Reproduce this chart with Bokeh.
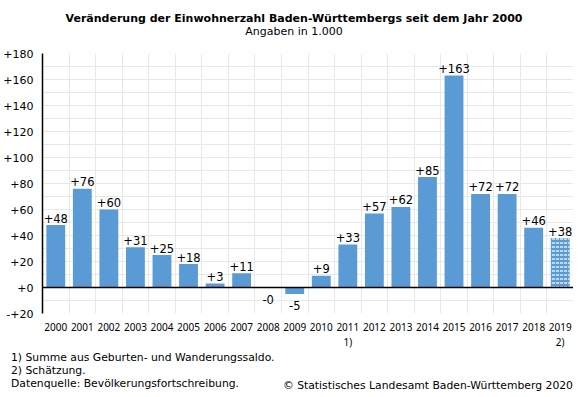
from bokeh.plotting import figure
from bokeh.layouts import column
from bokeh.models import ColumnDataSource, FixedTicker, Span, Range1d, Div
from bokeh.core.properties import value
from bokeh.embed import file_html
from bokeh.resources import INLINE

years = ["2000", "2001", "2002", "2003", "2004", "2005", "2006", "2007", "2008", "2009",
         "2010", "2011", "2012", "2013", "2014", "2015", "2016", "2017", "2018", "2019"]
year_labels = ["2000", "2001", "2002", "2003", "2004", "2005", "2006", "2007", "2008", "2009",
               "2010", "2011\n1)", "2012", "2013", "2014", "2015", "2016", "2017", "2018", "2019\n2)"]
values = [48, 76, 60, 31, 25, 18, 3, 11, -0.3, -5, 9, 33, 57, 62, 85, 163, 72, 72, 46, 38]
value_labels = ["+48", "+76", "+60", "+31", "+25", "+18", "+3", "+11", "-0", "-5", "+9", "+33",
                "+57", "+62", "+85", "+163", "+72", "+72", "+46", "+38"]
estimated = [False] * 19 + [True]
y_ticks = [-20, 0, 20, 40, 60, 80, 100, 120, 140, 160, 180]
y_tick_labels = ["-+20", "+0", "+20", "+40", "+60", "+80", "+100", "+120", "+140", "+160", "+180"]

title_text = "Veränderung der Einwohnerzahl Baden-Württembergs seit dem Jahr 2000"
subtitle_text = "Angaben in 1.000"
footnotes = ["1) Summe aus Geburten- und Wanderungssaldo.", "2) Schätzung.",
             "Datenquelle: Bevölkerungsfortschreibung."]
copyright_text = "© Statistisches Landesamt Baden-Württemberg 2020"

FONT = "DejaVu Sans"
TICK_FONT = "Noto Sans"
BLUE = "#5b9bd5"
W = 573
BL = 41
H_HEAD, H_MAIN, H_FOOT = 40, 311, 42

# ---------- header (figure whose data x equals canvas pixels) ----------
head = figure(width=W, height=H_HEAD, output_backend="svg", toolbar_location=None,
              x_axis_type=None, y_axis_type=None, title=None,
              x_range=Range1d(BL, W), y_range=Range1d(0, H_HEAD),
              min_border_left=BL, min_border_right=0, min_border_top=0, min_border_bottom=0)
head.outline_line_color = None
head.grid.visible = False
head.text(x=[293], y=[H_HEAD - 17.5], text=[title_text], text_font=value(FONT),
          text_font_size="11px", text_font_style="bold", text_align="center",
          text_baseline="middle", text_color="black")
head.text(x=[293], y=[H_HEAD - 31], text=[subtitle_text], text_font=value(FONT),
          text_font_size="11px", text_align="center", text_baseline="middle",
          text_color="black")

# ---------- main chart ----------
xs = [i + 0.5 for i in range(len(years))]

p = figure(width=W, height=H_MAIN, output_backend="svg", toolbar_location=None, title=None,
           x_range=Range1d(0, len(years)), y_range=Range1d(-20, 180),
           min_border_left=BL, min_border_right=0, min_border_top=13, min_border_bottom=38)
p.outline_line_color = None
p.background_fill_color = "white"
p.border_fill_color = "white"

p.xgrid.ticker = FixedTicker(ticks=list(range(len(years) + 1)))
p.xgrid.grid_line_color = "#e8e8e8"
p.ygrid.grid_line_color = "#e8e8e8"
p.ygrid.minor_grid_line_color = "#e8e8e8"

p.yaxis.ticker = FixedTicker(ticks=y_ticks, minor_ticks=list(range(-20, 181, 10)))
p.yaxis.major_label_overrides = {t: l for t, l in zip(y_ticks, y_tick_labels)}
p.yaxis.axis_line_color = "black"
p.yaxis.axis_line_width = 1.5
p.yaxis.major_tick_line_color = None
p.yaxis.minor_tick_line_color = None
p.yaxis.major_tick_out = 0
p.yaxis.major_tick_in = 0
p.yaxis.minor_tick_out = 0
p.yaxis.minor_tick_in = 0
p.yaxis.major_label_text_font = FONT
p.yaxis.major_label_text_font_size = "11px"
p.yaxis.major_label_text_color = "black"
p.yaxis.major_label_standoff = 9

p.xaxis.ticker = FixedTicker(ticks=xs)
p.xaxis.major_label_overrides = {x: l for x, l in zip(xs, year_labels)}
p.xaxis.axis_line_color = None
p.xaxis.major_tick_line_color = None
p.xaxis.minor_tick_line_color = None
p.xaxis.major_tick_out = 0
p.xaxis.minor_tick_out = 0
p.xaxis.major_label_text_font = TICK_FONT
p.xaxis.major_label_text_font_size = "10px"
p.xaxis.major_label_text_line_height = 1.1
p.xaxis.major_label_text_color = "black"
p.xaxis.major_label_standoff = 6

normal = ColumnDataSource(dict(
    x=[x for x, e in zip(xs, estimated) if not e],
    top=[v for v, e in zip(values, estimated) if not e]))
est = ColumnDataSource(dict(
    x=[x for x, e in zip(xs, estimated) if e],
    top=[v for v, e in zip(values, estimated) if e]))
p.vbar(x="x", top="top", bottom=0, width=0.71, source=normal,
       fill_color=BLUE, line_color=None)
p.vbar(x="x", top="top", bottom=0, width=0.71, source=est,
       fill_color=BLUE, line_color=None,
       hatch_pattern="horizontal_dash", hatch_color="white", hatch_scale=4, hatch_weight=1.2)

p.add_layout(Span(location=0, dimension="width", line_color="black", line_width=1.5))

pos = ColumnDataSource(dict(
    x=[x for x, v in zip(xs, values) if v > 0],
    y=[v for v in values if v > 0],
    t=[l for l, v in zip(value_labels, values) if v > 0]))
neg = ColumnDataSource(dict(
    x=[x for x, v in zip(xs, values) if v <= 0],
    y=[v for v in values if v <= 0],
    t=[l for l, v in zip(value_labels, values) if v <= 0]))
p.text(x="x", y="y", text="t", source=pos, text_font=value(FONT), text_font_size="11.5px",
       text_align="center", text_baseline="alphabetic", y_offset=-7, text_color="black")
p.text(x="x", y="y", text="t", source=neg, text_font=value(FONT), text_font_size="11.5px",
       text_align="center", text_baseline="top", y_offset=7, text_color="black")

# ---------- footer (HTML text) ----------
line_tops = [1, 14, 27]
note_html = "".join(
    f'<div style="position:absolute;left:11px;top:{t}px;white-space:nowrap;">{n}</div>'
    for t, n in zip(line_tops, footnotes))
copy_html = (f'<div style="position:absolute;right:0px;top:29px;white-space:nowrap;">'
             f'{copyright_text}</div>')
foot = Div(text=(f'<div style="position:relative;width:{W}px;height:{H_FOOT}px;'
                 f'font-family:\'DejaVu Sans\';font-size:10.8px;line-height:12px;color:#000;">'
                 f'{note_html}{copy_html}</div>'),
           width=W, height=H_FOOT, margin=0)

layout = column(head, p, foot, spacing=0)
open("out.html", "w").write(file_html(layout, INLINE))
